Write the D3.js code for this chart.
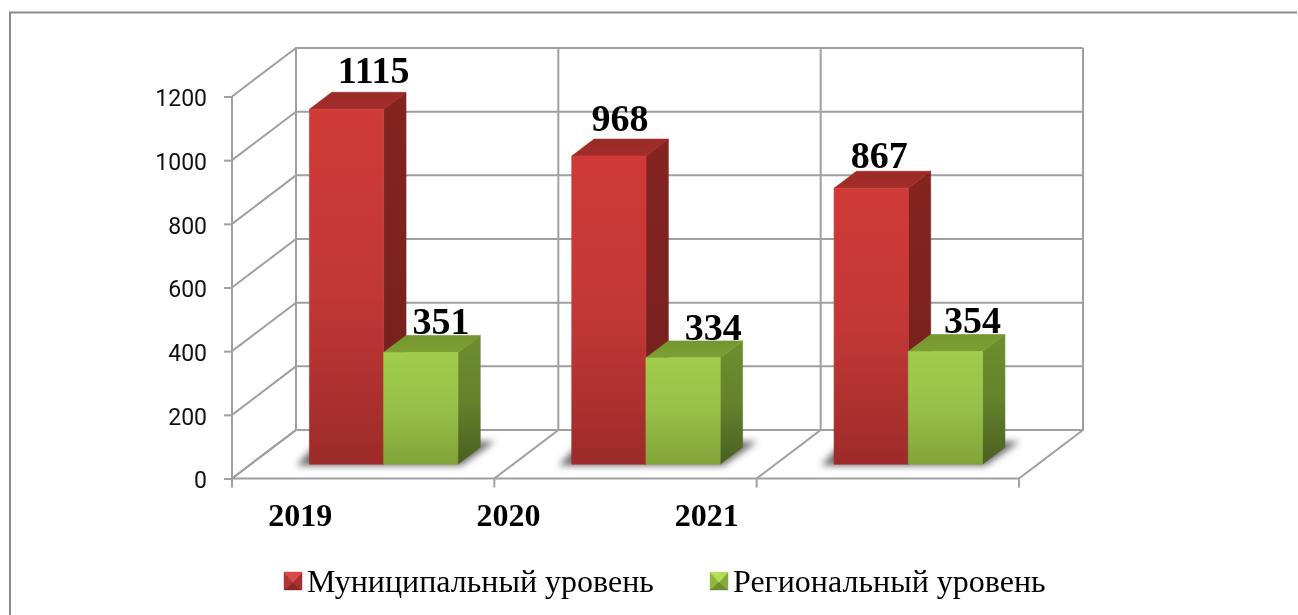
<!DOCTYPE html>
<html><head><meta charset="utf-8">
<script src="https://cdn.jsdelivr.net/npm/d3@7/dist/d3.min.js"></script>
<style>html,body{margin:0;padding:0;background:#fff;overflow:hidden}svg{display:block;filter:blur(.45px)}</style>
</head><body><div id="c"></div>
<script>
const categories = ["2019","2020","2021"];
const seriesNames = ["Муниципальный уровень","Региональный уровень"];
const municipal = [1115,968,867];
const regional = [351,334,354];
const yTicks = [0,200,400,600,800,1000,1200];
const categoryLabelShift = [-63,-117,-181];
const labelShiftX = [[16,0,-3],[9,19,16]];
const labelShiftY = [[18,17,12],[10,9,10]];

const W=1298,H=615;
const svg=d3.select("#c").append("svg").attr("width",W).attr("height",H);
const defs=svg.append("defs");
function grad(id,stops,x2=0,y2=1){const g=defs.append("linearGradient").attr("id",id).attr("x1",0).attr("y1",0).attr("x2",x2).attr("y2",y2);
 stops.forEach((c,i)=>g.append("stop").attr("offset",i/(stops.length-1)).attr("stop-color",c));}
grad("rF",["#d03a38","#c23836","#9d2b29"]);
grad("rS",["#842421","#7c2220","#6e1e1c"]);
grad("rT",["#9a2b28","#a32d2a"]);
grad("gF",["#a0cd4b","#96c148","#82a338"]);
grad("gS",["#6e8e30","#64832b","#4a5f20"]);
grad("gT",["#74962f","#7da035"]);
defs.append("filter").attr("id","sh").attr("x","-20%").attr("y","-50%").attr("width","140%").attr("height","200%")
 .append("feGaussianBlur").attr("stdDeviation",3.5);

svg.append("path").attr("d",`M10,${H}V12.5H1297`).attr("fill","none").attr("stroke","#8a8a8a").attr("stroke-width",2);

const x0=232,x1=1019,dxWall=64,dyWall=48.5;
const x=d3.scaleBand().domain(categories).range([x0,x1]);
const y=d3.scaleLinear().domain([0,1200]).range([478.5,96.5]);
const xBar=d3.scaleBand().domain(seriesNames).range([58.5,207]);
const P=(px,v,depth)=>[px+depth*dxWall, y(v)-depth*dyWall];
const grid=svg.append("g").attr("fill","none").attr("stroke","#a0a0a0").attr("stroke-width",2);
const xTickPos=[...categories.map(c=>x(c)),x1];
yTicks.forEach(t=>{
 grid.append("path").attr("d",d3.line()([P(x0,t,0),P(x0,t,1),P(x1,t,1)]));
});
xTickPos.forEach(px=>{
 grid.append("path").attr("d",d3.line()([[px,y(0)+9],P(px,0,0),P(px,0,1),P(px,1200,1)]));
});
grid.append("path").attr("d",d3.line()([[x0,y(0)],[x1,y(0)]]));
grid.append("path").attr("d",d3.line()([[x0,y(0)],[x0,y(1200)]]));

const yAxis=d3.axisLeft(y).tickValues(yTicks).tickSize(8).tickPadding(17).tickFormat(d3.format("d"));
const ya=svg.append("g").attr("transform",`translate(${x0},0)`).call(yAxis);
ya.select(".domain").remove();
ya.selectAll("line").attr("stroke","#a0a0a0").attr("stroke-width",2);
ya.selectAll("text").attr("font-family","Roboto").attr("font-size",23).attr("fill","#111").attr("dy","0.4em");

const dF=.295,dB=.645;
function bar(g,cat,name,v,pre){
 const l=x(cat)+xBar(name),r=l+xBar.bandwidth();
 const poly=(pts,f)=>g.append("path").attr("d",d3.line()(pts)+"Z").attr("fill",f).attr("stroke",f).attr("stroke-width",.6).attr("stroke-linejoin","round");
 poly([P(r,0,dF),P(r,0,dB),P(r,v,dB),P(r,v,dF)],`url(#${pre}S)`);
 poly([P(l,v,dF),P(r,v,dF),P(r,v,dB),P(l,v,dB)],`url(#${pre}T)`);
 poly([P(l,0,dF),P(r,0,dF),P(r,v,dF),P(l,v,dF)],`url(#${pre}F)`);
}
categories.forEach((c,i)=>{
 const l=x(c)+xBar(seriesNames[0]),r=x(c)+xBar(seriesNames[1])+xBar.bandwidth();
 const lf=P(l,0,dF)[0], rf=P(r,0,dF)[0];
 svg.append("path").attr("filter","url(#sh)").attr("fill","#444").attr("opacity",.8)
  .attr("d",d3.line()([[lf-13,y(0)-13],[rf+3,y(0)-13],[rf+37,y(0)-37],[lf+10,y(0)-37]])+"Z");
 const g=svg.append("g");
 bar(g,c,seriesNames[0],municipal[i],"r");
 bar(g,c,seriesNames[1],regional[i],"g");
});
const serif="'Liberation Serif'";
categories.forEach((c,i)=>{
 [[seriesNames[0],municipal[i]],[seriesNames[1],regional[i]]].forEach(([n,v],k)=>{
  const p=P(x(c)+xBar(n)+xBar.bandwidth()/2,v,(dF+dB)/2);
  svg.append("text").attr("x",p[0]+labelShiftX[k][i]).attr("y",p[1]-labelShiftY[k][i])
   .attr("text-anchor","middle").attr("font-family",serif).attr("font-weight","bold").attr("font-size",38).attr("fill","#000").text(v);
 });
 svg.append("text").attr("x",x(c)+x.bandwidth()/2+categoryLabelShift[i]).attr("y",526)
  .attr("text-anchor","middle").attr("font-family",serif).attr("font-weight","bold").attr("font-size",32).attr("fill","#000").text(c);
});
const legendX=d3.scaleOrdinal().domain(seriesNames).range([284,710]);
const cols=[["#d9494a","#8f2725","#b03533","#a82f2d"],["#b5dd55","#6f8f2c","#8fb640","#86ab3a"]];
seriesNames.forEach((n,i)=>{
 const lx=legendX(n),ly=572,s=18,c=[lx+s/2,ly+s*.55];
 const tri=(a,b,f)=>svg.append("path").attr("d",d3.line()([a,b,c])+"Z").attr("fill",f).attr("stroke",f).attr("stroke-width",.4);
 tri([lx,ly],[lx,ly+s],cols[i][2]);
 tri([lx+s,ly],[lx+s,ly+s],cols[i][3]);
 tri([lx,ly+s],[lx+s,ly+s],cols[i][1]);
 tri([lx,ly],[lx+s,ly],cols[i][0]);
 svg.append("text").attr("x",lx+23).attr("y",592).attr("font-family",serif).attr("font-size",32).attr("fill","#000").text(n);
});
</script></body></html>
